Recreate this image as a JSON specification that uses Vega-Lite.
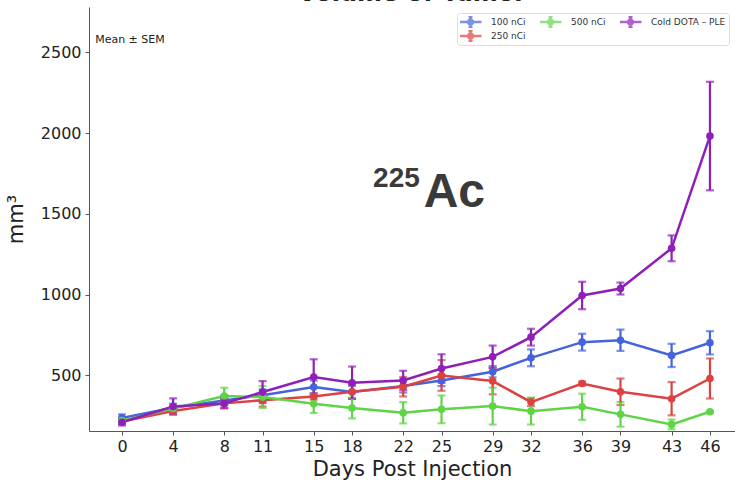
{
  "$schema": "https://vega.github.io/schema/vega-lite/v6.json",
  "autosize": "none",
  "padding": {"left": 89, "top": 7, "right": 0, "bottom": 51},
  "width": 646,
  "height": 424,
  "background": "white",
  "title": {"text": "Volume of Tumor", "fontSize": 24, "fontWeight": "bold", "font": "DejaVu Sans", "color": "#222", "offset": 1},
  "config": {
    "view": {"stroke": null},
    "font": "DejaVu Sans",
    "axis": {"domainColor": "#555", "tickColor": "#555", "labelColor": "#222", "titleColor": "#222", "grid": false, "tickSize": 4, "labelFontSize": 16, "titleFontSize": 21, "titleFontWeight": "normal"}
  },
  "datasets": {
    "series": [
      {"day": 0, "group": "100 nCi", "mean": 237, "sem": 22},
      {"day": 4, "group": "100 nCi", "mean": 300, "sem": 25},
      {"day": 8, "group": "100 nCi", "mean": 345, "sem": 30},
      {"day": 11, "group": "100 nCi", "mean": 378, "sem": 35},
      {"day": 15, "group": "100 nCi", "mean": 428, "sem": 40},
      {"day": 18, "group": "100 nCi", "mean": 397, "sem": 40},
      {"day": 22, "group": "100 nCi", "mean": 434, "sem": 40},
      {"day": 25, "group": "100 nCi", "mean": 469, "sem": 35},
      {"day": 29, "group": "100 nCi", "mean": 523, "sem": 35},
      {"day": 32, "group": "100 nCi", "mean": 609, "sem": 52},
      {"day": 36, "group": "100 nCi", "mean": 706, "sem": 52},
      {"day": 39, "group": "100 nCi", "mean": 718, "sem": 66},
      {"day": 43, "group": "100 nCi", "mean": 624, "sem": 72},
      {"day": 46, "group": "100 nCi", "mean": 702, "sem": 72},
      {"day": 0, "group": "250 nCi", "mean": 215, "sem": 15},
      {"day": 4, "group": "250 nCi", "mean": 280, "sem": 20},
      {"day": 8, "group": "250 nCi", "mean": 327, "sem": 30},
      {"day": 11, "group": "250 nCi", "mean": 347, "sem": 40},
      {"day": 15, "group": "250 nCi", "mean": 370, "sem": 20},
      {"day": 18, "group": "250 nCi", "mean": 399, "sem": 40},
      {"day": 22, "group": "250 nCi", "mean": 430, "sem": 60},
      {"day": 25, "group": "250 nCi", "mean": 500, "sem": 95},
      {"day": 29, "group": "250 nCi", "mean": 465, "sem": 82},
      {"day": 32, "group": "250 nCi", "mean": 335, "sem": 25},
      {"day": 36, "group": "250 nCi", "mean": 450, "sem": 12},
      {"day": 39, "group": "250 nCi", "mean": 399, "sem": 82},
      {"day": 43, "group": "250 nCi", "mean": 356, "sem": 103},
      {"day": 46, "group": "250 nCi", "mean": 481, "sem": 124},
      {"day": 0, "group": "500 nCi", "mean": 220, "sem": 15},
      {"day": 4, "group": "500 nCi", "mean": 296, "sem": 20},
      {"day": 8, "group": "500 nCi", "mean": 372, "sem": 52},
      {"day": 11, "group": "500 nCi", "mean": 366, "sem": 68},
      {"day": 15, "group": "500 nCi", "mean": 325, "sem": 57},
      {"day": 18, "group": "500 nCi", "mean": 298, "sem": 64},
      {"day": 22, "group": "500 nCi", "mean": 269, "sem": 66},
      {"day": 25, "group": "500 nCi", "mean": 290, "sem": 86},
      {"day": 29, "group": "500 nCi", "mean": 310, "sem": 114},
      {"day": 32, "group": "500 nCi", "mean": 279, "sem": 83},
      {"day": 36, "group": "500 nCi", "mean": 306, "sem": 81},
      {"day": 39, "group": "500 nCi", "mean": 259, "sem": 76},
      {"day": 43, "group": "500 nCi", "mean": 197, "sem": 30},
      {"day": 46, "group": "500 nCi", "mean": 275, "sem": 5},
      {"day": 0, "group": "Cold DOTA – PLE", "mean": 210, "sem": 20},
      {"day": 4, "group": "Cold DOTA – PLE", "mean": 308, "sem": 50},
      {"day": 8, "group": "Cold DOTA – PLE", "mean": 327, "sem": 30},
      {"day": 11, "group": "Cold DOTA – PLE", "mean": 397, "sem": 68},
      {"day": 15, "group": "Cold DOTA – PLE", "mean": 490, "sem": 110},
      {"day": 18, "group": "Cold DOTA – PLE", "mean": 455, "sem": 100},
      {"day": 22, "group": "Cold DOTA – PLE", "mean": 469, "sem": 60},
      {"day": 25, "group": "Cold DOTA – PLE", "mean": 543, "sem": 88},
      {"day": 29, "group": "Cold DOTA – PLE", "mean": 615, "sem": 70},
      {"day": 32, "group": "Cold DOTA – PLE", "mean": 737, "sem": 52},
      {"day": 36, "group": "Cold DOTA – PLE", "mean": 995, "sem": 85},
      {"day": 39, "group": "Cold DOTA – PLE", "mean": 1038, "sem": 37},
      {"day": 43, "group": "Cold DOTA – PLE", "mean": 1287, "sem": 80},
      {"day": 46, "group": "Cold DOTA – PLE", "mean": 1982, "sem": 336}
    ],
    "notes": [
      {"day": -2.1, "value": 2577, "label": "Mean ± SEM", "kind": "mean"},
      {"day": 23.3, "value": 1668, "label": "225", "kind": "sup"},
      {"day": 23.6, "value": 1545, "label": "Ac", "kind": "ac"}
    ]
  },
  "layer": [
    {
      "data": {"name": "series"},
      "mark": {"type": "line", "strokeWidth": 2.5, "clip": true},
      "encoding": {
        "x": {"field": "day", "type": "quantitative", "title": "Days Post Injection", "scale": {"domain": [-2.58, 47.96], "nice": false, "zero": false},
              "axis": {"values": [0, 4, 8, 11, 15, 18, 22, 25, 29, 32, 36, 39, 43, 46], "titlePadding": 4, "labelPadding": 3}},
        "y": {"field": "mean", "type": "quantitative", "title": "mm³", "scale": {"domain": [156, 2781], "nice": false, "zero": false},
              "axis": {"values": [500, 1000, 1500, 2000, 2500], "format": "d", "titlePadding": 14, "labelPadding": 4}},
        "color": {"field": "group", "type": "nominal",
          "scale": {"domain": ["100 nCi", "500 nCi", "Cold DOTA – PLE", "250 nCi"], "range": ["#4463dc", "#5fd447", "#8e1fb8", "#dc4242"]},
          "legend": {"orient": "none", "legendX": 368, "legendY": 6, "direction": "horizontal", "columns": 3, "title": null,
            "labelFontSize": 9, "labelColor": "#333", "labelOffset": 10, "columnPadding": 14, "rowPadding": 2, "labelLimit": 200, "clipHeight": 12,
            "symbolType": "M-1.2,0H1.2M0,-0.55V0.55M-0.22,-0.55H0.22M-0.22,0.55H0.22M-0.25,0A0.25,0.25 0 1,0 0.25,0A0.25,0.25 0 1,0 -0.25,0", "symbolSize": 336, "symbolStrokeWidth": 2.5, "symbolOpacity": 1,
            "fillColor": "white", "strokeColor": "#ddd", "cornerRadius": 3, "padding": 3}}
      }
    },
    {
      "data": {"name": "series"},
      "mark": {"type": "errorbar", "ticks": {"size": 8, "thickness": 2.2}, "thickness": 2.2, "clip": true},
      "encoding": {
        "x": {"field": "day", "type": "quantitative", "title": "Days Post Injection"},
        "y": {"field": "mean", "type": "quantitative", "title": "mm³"},
        "yError": {"field": "sem"},
        "color": {"field": "group", "type": "nominal"}
      }
    },
    {
      "data": {"name": "series"},
      "mark": {"type": "point", "filled": true, "size": 58, "opacity": 1, "clip": true},
      "encoding": {
        "x": {"field": "day", "type": "quantitative", "title": "Days Post Injection"},
        "y": {"field": "mean", "type": "quantitative", "title": "mm³"},
        "color": {"field": "group", "type": "nominal"}
      }
    },
    {
      "data": {"name": "notes"},
      "transform": [{"filter": "datum.kind == 'mean'"}],
      "mark": {"type": "text", "align": "left", "baseline": "middle", "fontSize": 11, "color": "#222"},
      "encoding": {
        "x": {"field": "day", "type": "quantitative"},
        "y": {"field": "value", "type": "quantitative"},
        "text": {"field": "label"}
      }
    },
    {
      "data": {"name": "notes"},
      "transform": [{"filter": "datum.kind == 'sup'"}],
      "mark": {"type": "text", "align": "right", "baseline": "alphabetic", "fontSize": 28, "fontWeight": "bold", "font": "Liberation Sans", "color": "#3a3a3a"},
      "encoding": {
        "x": {"field": "day", "type": "quantitative"},
        "y": {"field": "value", "type": "quantitative"},
        "text": {"field": "label"}
      }
    },
    {
      "data": {"name": "notes"},
      "transform": [{"filter": "datum.kind == 'ac'"}],
      "mark": {"type": "text", "align": "left", "baseline": "alphabetic", "fontSize": 48, "fontWeight": "bold", "font": "Liberation Sans", "color": "#3a3a3a"},
      "encoding": {
        "x": {"field": "day", "type": "quantitative"},
        "y": {"field": "value", "type": "quantitative"},
        "text": {"field": "label"}
      }
    }
  ]
}
